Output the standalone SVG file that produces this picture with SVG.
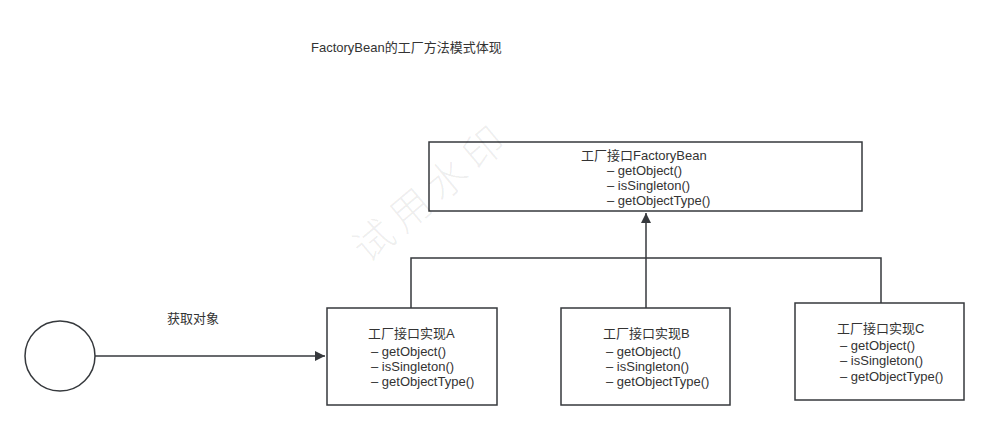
<svg xmlns="http://www.w3.org/2000/svg" width="989" height="430" viewBox="0 0 989 430">
<style>
.box{fill:#fff;stroke:#36393d;stroke-width:1.5}
.ln{fill:none;stroke:#36393d;stroke-width:1.5}
.t{font-family:"Liberation Sans","Noto Sans CJK SC",sans-serif;font-size:13px;fill:#333}
.wm{font-family:"Noto Sans CJK SC",serif;font-size:40px;fill:#000;fill-opacity:0.07;font-weight:300}
</style>
<defs>
<marker id="tri" viewBox="0 0 10 10" refX="10" refY="5" markerWidth="10" markerHeight="10" markerUnits="userSpaceOnUse" orient="auto">
<path d="M0,0 L10,5 L0,10 Z" fill="#36393d"/>
</marker>
</defs>
<rect width="989" height="430" fill="#fff"/>
<text class="t" x="311" y="52">FactoryBean的工厂方法模式体现</text>
<g id="connectors">
<path class="ln" d="M411,308 V258 H881 V303"/>
<path class="ln" d="M646,308 V213" stroke-width="2" marker-end="url(#tri)"/>
<path class="ln" d="M95,356 H325" marker-end="url(#tri)"/>
<text class="t" x="167" y="323">获取对象</text>
</g>
<g id="client">
<circle cx="60" cy="356" r="35" class="box"/>
</g>
<g id="factoryBean">
<rect class="box" x="429" y="142" width="433" height="69"/>
<text class="t" x="581" y="160">工厂接口FactoryBean</text>
<text class="t" x="607" y="175">– getObject()</text>
<text class="t" x="607" y="190">– isSingleton()</text>
<text class="t" x="607" y="205">– getObjectType()</text>
</g>
<g id="implA">
<rect class="box" x="327" y="308" width="170" height="97"/>
<text class="t" x="368" y="338">工厂接口实现A</text>
<text class="t" x="371" y="356">– getObject()</text>
<text class="t" x="371" y="371">– isSingleton()</text>
<text class="t" x="371" y="386">– getObjectType()</text>
</g>
<g id="implB">
<rect class="box" x="561" y="308" width="169" height="97"/>
<text class="t" x="603" y="338">工厂接口实现B</text>
<text class="t" x="606" y="356">– getObject()</text>
<text class="t" x="606" y="371">– isSingleton()</text>
<text class="t" x="606" y="386">– getObjectType()</text>
</g>
<g id="implC">
<rect class="box" x="795" y="303" width="169" height="97"/>
<text class="t" x="837" y="333">工厂接口实现C</text>
<text class="t" x="840" y="350">– getObject()</text>
<text class="t" x="840" y="365">– isSingleton()</text>
<text class="t" x="840" y="381">– getObjectType()</text>
</g>
<text class="wm" x="432" y="206" text-anchor="middle" letter-spacing="8" transform="rotate(-40 432 192)">试用水印</text>
</svg>
